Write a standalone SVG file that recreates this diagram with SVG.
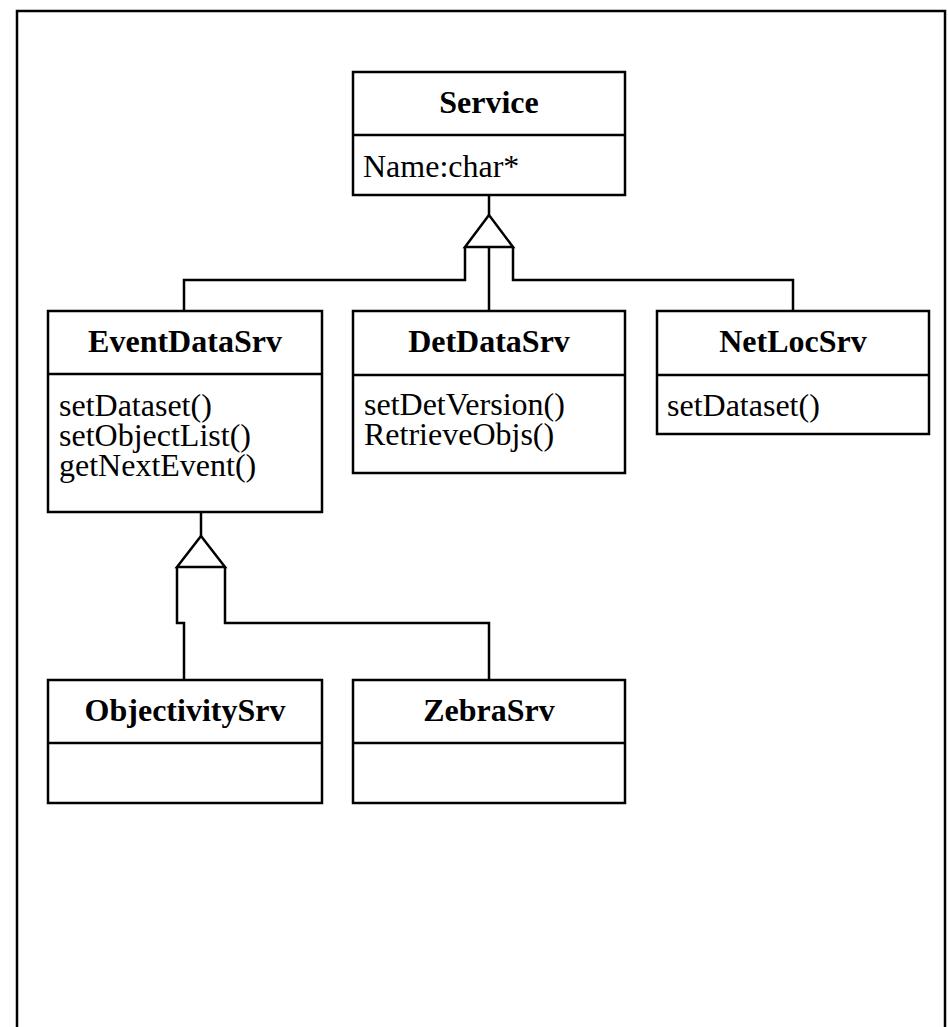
<svg xmlns="http://www.w3.org/2000/svg" width="948" height="1027" viewBox="0 0 948 1027">
<style>
.box{fill:#fff;stroke:#000;stroke-width:2.5}
.ln{fill:none;stroke:#000;stroke-width:2.5}
.conn{fill:none;stroke:#000;stroke-width:2.5;stroke-linejoin:miter}
.tri{fill:#fff;stroke:#000;stroke-width:2.5;stroke-linejoin:miter}
.t{font-family:"Liberation Serif","Times New Roman",serif;font-size:32px;fill:#000}
.b{font-weight:bold;text-anchor:middle}
</style>
<rect x="0" y="0" width="948" height="1027" fill="#fff"/>
<rect id="frame" x="17" y="11" width="928" height="1040" class="box"/>
<g id="connectors">
  <path class="conn" d="M489,195 V215"/>
  <path class="tri" d="M489,215 L465,247 H513 Z"/>
  <path class="conn" d="M489,247 V311"/>
  <path class="conn" d="M465,247 V280 H184 V311"/>
  <path class="conn" d="M513,247 V280 H793 V311"/>
  <path class="conn" d="M201,512 V536"/>
  <path class="tri" d="M201,536 L177,567 H225 Z"/>
  <path class="conn" d="M177,567 V623 H184 V680"/>
  <path class="conn" d="M225,567 V623 H489 V679"/>
</g>
<g id="Service">
  <rect class="box" x="353" y="72" width="272" height="123"/>
  <line class="ln" x1="353" y1="135" x2="625" y2="135"/>
  <text class="t b" x="489" y="113">Service</text>
  <text class="t" x="363" y="177">Name:char*</text>
</g>
<g id="EventDataSrv">
  <rect class="box" x="48" y="311" width="274" height="201"/>
  <line class="ln" x1="48" y1="374" x2="322" y2="374"/>
  <text class="t b" x="185" y="352">EventDataSrv</text>
  <text class="t" x="59" y="416">setDataset()</text>
  <text class="t" x="59" y="446">setObjectList()</text>
  <text class="t" x="59" y="476">getNextEvent()</text>
</g>
<g id="DetDataSrv">
  <rect class="box" x="353" y="311" width="272" height="162"/>
  <line class="ln" x1="353" y1="375" x2="625" y2="375"/>
  <text class="t b" x="489" y="352">DetDataSrv</text>
  <text class="t" x="364" y="415">setDetVersion()</text>
  <text class="t" x="364" y="445">RetrieveObjs()</text>
</g>
<g id="NetLocSrv">
  <rect class="box" x="657" y="311" width="272" height="123"/>
  <line class="ln" x1="657" y1="375" x2="929" y2="375"/>
  <text class="t b" x="793" y="352">NetLocSrv</text>
  <text class="t" x="667" y="416">setDataset()</text>
</g>
<g id="ObjectivitySrv">
  <rect class="box" x="48" y="680" width="274" height="123"/>
  <line class="ln" x1="48" y1="743" x2="322" y2="743"/>
  <text class="t b" x="185" y="721">ObjectivitySrv</text>
</g>
<g id="ZebraSrv">
  <rect class="box" x="353" y="680" width="272" height="123"/>
  <line class="ln" x1="353" y1="743" x2="625" y2="743"/>
  <text class="t b" x="489" y="721">ZebraSrv</text>
</g>
</svg>
